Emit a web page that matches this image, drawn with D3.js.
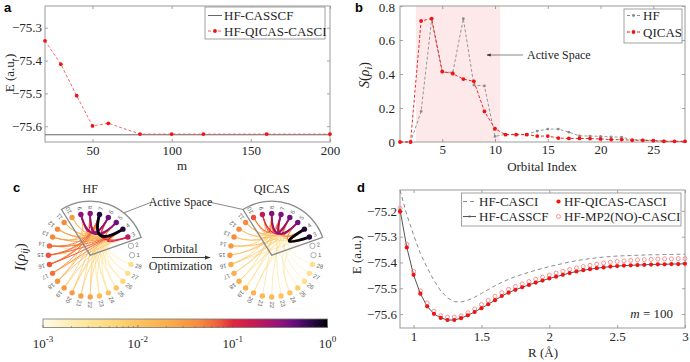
<!DOCTYPE html>
<html lang="en">
<head>
<meta charset="utf-8">
<title>qicas figure</title>
<script src="https://cdn.jsdelivr.net/npm/d3@7"></script>
<style>
  body { margin: 0; background: #fff; }
  svg { font-family: "Liberation Serif", "Times New Roman", serif; }
  .panel { font-family: "Liberation Sans", Arial, sans-serif; font-weight: bold; font-size: 13px; }
  .lab { font-size: 13px; fill: #262626; }
</style>
</head>
<body>
<script>

// ---- panel a ----
var mVals = [20, 30, 40, 50, 60, 80, 100, 120, 160, 200];
var eQicasA = [-75.340, -75.411, -75.507, -75.599, -75.591, -75.624, -75.624, -75.624, -75.624, -75.624];
var eCasscfA = -75.626;

// ---- panel b ----
var orbIdx = [1,2,3,4,5,6,7,8,9,10,11,12,13,14,15,16,17,18,19,20,21,22,23,24,25,26,27,28];
var sHF = [0, 0, 0.18, 0.72, 0.41, 0.41, 0.725, 0.335, 0.33, 0.033, 0.045, 0.045, 0.045, 0.064, 0.076, 0.076,
           0.058, 0.036, 0.035, 0.033, 0.03, 0.028, 0.014, 0.012, 0.01, 0.006, 0.004, 0.004];
var sQICAS = [0, 0, 0.712, 0.726, 0.415, 0.402, 0.37, 0.357, 0.18, 0.078, 0.043, 0.043, 0.043, 0.035, 0.035, 0.023,
              0.021, 0.021, 0.02, 0.018, 0.014, 0.014, 0.01, 0.01, 0.008, 0.004, 0.004, 0.004];
var activeSpan = [2.5, 10.5];

// ---- panel c : mutual information pairs [i, j, I] ----
var miHF = [
  [4,7,0.95],[3,4,0.12],[3,7,0.1],[5,9,0.3],[6,8,0.3],[5,8,0.2],[6,9,0.2],[5,6,0.1],[8,9,0.1],
  [4,5,0.05],[4,6,0.05],[7,8,0.05],[7,9,0.05],[4,8,0.03],[5,7,0.03],[4,10,0.02],[7,10,0.02],
  [11,4,0.02],[11,7,0.02],[12,4,0.03],[12,7,0.025],[13,4,0.035],[13,7,0.03],[14,4,0.06],[14,7,0.05],
  [15,4,0.07],[15,7,0.06],[16,4,0.065],[16,7,0.055],[17,4,0.04],[17,7,0.035],[18,4,0.02],[18,7,0.02],
  [19,4,0.012],[19,7,0.01],[20,4,0.01],[20,7,0.01],[21,4,0.01],[21,7,0.008],[22,4,0.008],[22,7,0.008],
  [23,4,0.005],[23,7,0.005],[24,4,0.005],[24,7,0.004],[25,4,0.004],[25,7,0.004],[26,4,0.003],[26,7,0.003],
  [27,4,0.003],[27,7,0.003],[28,4,0.002],[28,7,0.002],[14,5,0.02],[15,6,0.02],[16,8,0.02],[13,9,0.015],
  [17,3,0.01],[12,5,0.01],[18,9,0.01],[20,5,0.005],[22,6,0.005],[24,8,0.004],[26,9,0.003],[14,15,0.01],[15,16,0.01]
];
var miQICAS = [
  [3,4,0.95],[5,8,0.3],[6,7,0.3],[5,7,0.15],[6,8,0.15],[5,6,0.08],[7,8,0.08],[3,5,0.05],[4,6,0.05],
  [9,5,0.1],[9,8,0.08],[10,6,0.05],[10,7,0.04],[9,10,0.03],[3,7,0.03],[4,8,0.03],
  [11,5,0.02],[11,8,0.015],[12,5,0.015],[12,8,0.012],[13,6,0.015],[13,7,0.012],[14,5,0.015],[14,8,0.012],
  [15,6,0.015],[15,7,0.012],[16,5,0.012],[16,8,0.01],[17,6,0.01],[17,7,0.008],[18,5,0.008],[18,8,0.007],
  [19,6,0.006],[19,7,0.005],[20,5,0.006],[21,8,0.005],[22,6,0.005],[23,7,0.004],[24,5,0.004],[25,8,0.003],
  [26,6,0.003],[27,7,0.002],[28,5,0.002],[11,3,0.006],[14,4,0.006],[16,3,0.005],[20,4,0.004],[24,3,0.003]
];
var cbarTicks = [1e-3, 1e-2, 1e-1, 1];
var cbarExp = ["-3", "-2", "-1", "0"];
var cmapStops = [0, 0.12, 0.25, 0.333, 0.45, 0.55, 0.62, 0.667, 0.75, 0.82, 0.88, 0.94, 1];
var cmapColors = ["#fffbe8", "#feeaa8", "#fed87a", "#fdc35e", "#fbac4a", "#f68a3e", "#ee5b3a", "#e2263d",
                  "#c21a55", "#9b1378", "#6a0d80", "#2c0a4c", "#000004"];

// ---- panel d ----
var rVals = [0.90,0.95,1.00,1.05,1.10,1.15,1.20,1.25,1.30,1.35,1.40,1.45,1.50,1.55,1.60,1.65,1.70,1.75,1.80,1.85,1.90,
             1.95,2.00,2.05,2.10,2.15,2.20,2.25,2.30,2.35,2.40,2.45,2.50,2.55,2.60,2.65,2.70,2.75,2.80,2.85,2.90,2.95,3.00];
var eCasci = [-75.120,-75.215,-75.293,-75.365,-75.420,-75.470,-75.510,-75.537,-75.552,-75.553,-75.546,-75.535,-75.520,
              -75.505,-75.490,-75.477,-75.465,-75.455,-75.446,-75.438,-75.430,-75.423,-75.416,-75.410,-75.404,-75.398,
              -75.393,-75.389,-75.385,-75.382,-75.379,-75.377,-75.375,-75.374,-75.373,-75.372,-75.371,-75.370,-75.370,
              -75.369,-75.369,-75.368,-75.368];
var eCasscf = [-75.195,-75.341,-75.448,-75.521,-75.570,-75.599,-75.615,-75.623,-75.623,-75.616,-75.605,-75.592,-75.577,
               -75.562,-75.546,-75.530,-75.517,-75.506,-75.496,-75.487,-75.478,-75.470,-75.462,-75.455,-75.448,-75.441,
               -75.435,-75.430,-75.426,-75.422,-75.419,-75.416,-75.414,-75.412,-75.411,-75.410,-75.409,-75.408,-75.407,
               -75.407,-75.406,-75.406,-75.405];
var eQicas = [-75.203,-75.342,-75.448,-75.521,-75.570,-75.599,-75.615,-75.623,-75.623,-75.616,-75.605,-75.592,-75.577,
              -75.562,-75.546,-75.530,-75.517,-75.506,-75.496,-75.487,-75.478,-75.470,-75.462,-75.455,-75.448,-75.441,
              -75.435,-75.430,-75.426,-75.422,-75.419,-75.416,-75.414,-75.412,-75.411,-75.410,-75.409,-75.408,-75.407,
              -75.407,-75.406,-75.406,-75.405];
var eMP2 = [-75.190,-75.329,-75.435,-75.510,-75.557,-75.589,-75.606,-75.612,-75.612,-75.607,-75.595,-75.580,-75.563,
            -75.547,-75.531,-75.517,-75.504,-75.493,-75.483,-75.474,-75.465,-75.457,-75.449,-75.441,-75.434,-75.427,
            -75.421,-75.416,-75.411,-75.406,-75.402,-75.399,-75.396,-75.394,-75.392,-75.390,-75.389,-75.388,-75.387,
            -75.386,-75.386,-75.385,-75.385];

var W = 690, H = 362;
var RED = "#f21212";
var SERIF = "'Liberation Serif', 'Times New Roman', serif";

var svg = d3.select("body").append("svg").attr("width", W).attr("height", H);

// box with inward ticks on all four sides (matlab style)
function frame(g, x, y, xt, yt, xfmt, yfmt, xpad, ypad) {
  var x0 = x.range()[0], x1 = x.range()[1], y0 = y.range()[0], y1 = y.range()[1];
  g.append("g").attr("transform", "translate(0," + y0 + ")")
    .call(d3.axisBottom(x).tickValues(xt).tickFormat(xfmt).tickSizeInner(-3).tickSizeOuter(0).tickPadding(xpad));
  g.append("g").attr("transform", "translate(0," + y1 + ")")
    .call(d3.axisTop(x).tickValues(xt).tickFormat("").tickSizeInner(-3).tickSizeOuter(0));
  g.append("g").attr("transform", "translate(" + x0 + ",0)")
    .call(d3.axisLeft(y).tickValues(yt).tickFormat(yfmt).tickSizeInner(-3).tickSizeOuter(0).tickPadding(ypad));
  g.append("g").attr("transform", "translate(" + x1 + ",0)")
    .call(d3.axisRight(y).tickValues(yt).tickFormat("").tickSizeInner(-3).tickSizeOuter(0));
  g.selectAll(".domain").remove();
  g.selectAll(".tick line").attr("stroke", "#666").attr("stroke-width", 0.6);
  g.selectAll(".tick text").style("font-family", SERIF).style("font-size", "13px").attr("fill", "#262626");
  g.append("rect").attr("x", x0).attr("y", y1).attr("width", x1 - x0).attr("height", y0 - y1)
    .attr("fill", "none").attr("stroke", "#9a9a9a").attr("stroke-width", 1);
}

function legendBox(g, x, y, w, h) {
  g.append("rect").attr("x", x).attr("y", y).attr("width", w).attr("height", h)
    .attr("fill", "#fff").attr("stroke", "#8a8a8a").attr("stroke-width", 0.8);
}

function label(g, txt, x, y, anchor) {
  return g.append("text").attr("class", "lab").attr("x", x).attr("y", y)
    .attr("text-anchor", anchor || "middle").style("font-family", SERIF).text(txt);
}

// ================= panel a =================
var ga = svg.append("g");
var xA = d3.scaleLinear().domain([20, 200]).range([45, 330]);
var yA = d3.scaleLinear().domain([-75.648, -75.234]).range([142, 6]);
frame(ga, xA, yA, [50, 100, 150, 200], [-75.6, -75.5, -75.4, -75.3], d3.format("d"), d3.format(".1f"), 4, 3);

ga.append("line").attr("x1", xA(20)).attr("x2", xA(200)).attr("y1", yA(eCasscfA)).attr("y2", yA(eCasscfA))
  .attr("stroke", "#666").attr("stroke-width", 1);
var ptsA = mVals.map(function(m, i) { return [m, eQicasA[i]]; });
ga.append("path").datum(ptsA)
  .attr("d", d3.line().x(function(d) { return xA(d[0]); }).y(function(d) { return yA(d[1]); }))
  .attr("fill", "none").attr("stroke", "#f45a5a").attr("stroke-width", 0.9).attr("stroke-dasharray", "3,2");
ga.selectAll(".ma").data(ptsA).enter().append("circle")
  .attr("cx", function(d) { return xA(d[0]); }).attr("cy", function(d) { return yA(d[1]); })
  .attr("r", 1.9).attr("fill", RED);

label(ga, "m", 182, 170);
label(ga, "E (a.u.)", 0, 0).attr("transform", "translate(14,73) rotate(-90)");

legendBox(ga, 205, 7, 120, 32);
ga.append("line").attr("x1", 208).attr("x2", 222).attr("y1", 15.5).attr("y2", 15.5).attr("stroke", "#666");
label(ga, "HF-CASSCF", 224, 20, "start");
ga.append("line").attr("x1", 208).attr("x2", 222).attr("y1", 31).attr("y2", 31)
  .attr("stroke", "#f45a5a").attr("stroke-dasharray", "3,2");
ga.append("circle").attr("cx", 215).attr("cy", 31).attr("r", 1.9).attr("fill", RED);
label(ga, "HF-QICAS-CASCI", 224, 35.5, "start");

svg.append("text").attr("class", "panel").attr("x", 4).attr("y", 12).text("a");

// ================= panel b =================
var gb = svg.append("g");
var xB = d3.scaleLinear().domain([1, 28]).range([400, 685]);
var yB = d3.scaleLinear().domain([0, 0.8]).range([142, 6]);
gb.append("rect").attr("x", xB(activeSpan[0])).attr("y", yB(0.8))
  .attr("width", xB(activeSpan[1]) - xB(activeSpan[0])).attr("height", yB(0) - yB(0.8))
  .attr("fill", "#fde9e9");
frame(gb, xB, yB, [5, 10, 15, 20, 25], [0, 0.2, 0.4, 0.6, 0.8], d3.format("d"),
  function(d) { return d === 0 ? "0" : d3.format(".1f")(d); }, 3, 5);
gb.selectAll(".tick text").filter(function(d) { return d === 0.8; }).attr("dy", "0.42em");

var lineB = function(arr) {
  return d3.line().x(function(d, i) { return xB(orbIdx[i]); }).y(function(d) { return yB(d); })(arr);
};
gb.append("path").attr("d", lineB(sHF)).attr("fill", "none").attr("stroke", "#8c8c8c")
  .attr("stroke-width", 0.9).attr("stroke-dasharray", "3,2");
gb.selectAll(".mh").data(sHF).enter().append("circle")
  .attr("cx", function(d, i) { return xB(orbIdx[i]); }).attr("cy", function(d) { return yB(d); })
  .attr("r", 1.4).attr("fill", "#8c8c8c");
gb.append("path").attr("d", lineB(sQICAS)).attr("fill", "none").attr("stroke", RED)
  .attr("stroke-width", 0.9).attr("stroke-dasharray", "3,2");
gb.selectAll(".mq").data(sQICAS).enter().append("circle")
  .attr("cx", function(d, i) { return xB(orbIdx[i]); }).attr("cy", function(d) { return yB(d); })
  .attr("r", 1.9).attr("fill", RED);

// active space annotation
svg.append("defs").append("marker").attr("id", "arr").attr("viewBox", "0 0 10 10")
  .attr("refX", 9).attr("refY", 5).attr("markerWidth", 6).attr("markerHeight", 6).attr("orient", "auto")
  .append("path").attr("d", "M0,1.5 L10,5 L0,8.5 z").attr("fill", "#333");
gb.append("line").attr("x1", 523).attr("x2", 487).attr("y1", 55).attr("y2", 55)
  .attr("stroke", "#555").attr("stroke-width", 0.7).attr("marker-end", "url(#arr)");
label(gb, "Active Space", 527, 59, "start").style("font-size", "12px");

var sLab = gb.append("text").attr("class", "lab").attr("text-anchor", "middle").style("font-family", SERIF)
  .attr("transform", "translate(369,75) rotate(-90)").style("font-size", "14px");
sLab.append("tspan").attr("font-style", "italic").text("S");
sLab.append("tspan").text("(");
sLab.append("tspan").attr("font-style", "italic").text("ρ");
sLab.append("tspan").attr("font-style", "italic").attr("font-size", "10px").attr("dy", 3).text("i");
sLab.append("tspan").attr("dy", -3).text(")");
label(gb, "Orbital Index", 542, 171);

legendBox(gb, 624, 9, 58, 34);
gb.append("line").attr("x1", 627).attr("x2", 640).attr("y1", 15.5).attr("y2", 15.5)
  .attr("stroke", "#8c8c8c").attr("stroke-dasharray", "3,2");
gb.append("circle").attr("cx", 633.5).attr("cy", 15.5).attr("r", 1.4).attr("fill", "#8c8c8c");
label(gb, "HF", 643, 20, "start");
gb.append("line").attr("x1", 627).attr("x2", 640).attr("y1", 32).attr("y2", 32)
  .attr("stroke", RED).attr("stroke-dasharray", "3,2");
gb.append("circle").attr("cx", 633.5).attr("cy", 32).attr("r", 1.9).attr("fill", RED);
label(gb, "QICAS", 643, 36.5, "start");

svg.append("text").attr("class", "panel").attr("x", 355).attr("y", 12).text("b");

// ================= panel c =================
var gc = svg.append("g");
var tScale = d3.scaleLog().domain([1e-3, 1]).range([0, 1]).clamp(true);
var cmap = d3.scaleLinear().domain(cmapStops).range(cmapColors).interpolate(d3.interpolateRgb);
function colorOf(v) { return cmap(tScale(v)); }

var nOrb = 28, rNode = 41.8, rWedge = 54;
var ang = d3.scaleLinear().domain([1, nOrb + 1]).range([0, 2 * Math.PI]);

function drawChord(cx, cy, ent, pairs, title) {
  var g = gc.append("g");
  function pos(k, r) { var a = ang(k); return [cx + r * Math.cos(a), cy - r * Math.sin(a)]; }
  var sorted = pairs.slice().sort(function(a, b) { return a[2] - b[2]; });
  g.selectAll(".edge").data(sorted).enter().append("path")
    .attr("d", function(d) {
      var p = d3.path(), a = pos(d[0], rNode), b = pos(d[1], rNode);
      p.moveTo(a[0], a[1]);
      p.quadraticCurveTo(cx, cy - 6, b[0], b[1]);
      return p.toString();
    })
    .attr("fill", "none").attr("stroke", function(d) { return colorOf(d[2]); })
    .attr("stroke-width", function(d) { return 0.4 + 2.6 * Math.sqrt(d[2]); })
    .attr("stroke-linecap", "round");
  g.selectAll(".node").data(orbIdx).enter().append("circle")
    .attr("cx", function(k) { return pos(k, rNode)[0]; })
    .attr("cy", function(k) { return pos(k, rNode)[1]; })
    .attr("r", 2.7)
    .attr("fill", function(k) { return ent[k - 1] < 1e-3 ? "#fff" : colorOf(ent[k - 1]); })
    .attr("stroke", function(k) { return ent[k - 1] < 1e-3 ? "#777" : "none"; })
    .attr("stroke-width", 0.6);
  g.selectAll(".nl").data(orbIdx).enter().append("text")
    .attr("transform", function(k) {
      var p = pos(k, rNode + 4.5);
      return "translate(" + p[0] + "," + p[1] + ") rotate(" + (-ang(k) * 180 / Math.PI) + ")";
    })
    .attr("dy", "0.35em").attr("font-size", "6px").attr("fill", "#666")
    .attr("font-family", "'Liberation Sans', Arial, sans-serif")
    .text(function(k) { return k; });
  // active space wedge
  var a0 = ang(2.5), a1 = ang(10.5);
  g.append("path").attr("transform", "translate(" + cx + "," + cy + ")")
    .attr("d", d3.arc()({ innerRadius: 0, outerRadius: rWedge, startAngle: Math.PI / 2 - a1, endAngle: Math.PI / 2 - a0 }))
    .attr("fill", "none").attr("stroke", "#8a8a8a").attr("stroke-width", 1.3);
  label(g, title, cx, 193).style("font-size", "12px");
}
drawChord(90.2, 255.2, sHF, miHF, "HF");
drawChord(271.7, 255.2, sQICAS, miQICAS, "QICAS");

// connectors for "Active Space"
var pL = [90.2 + rWedge * Math.cos(0.9), 255.2 - rWedge * Math.sin(0.9)];
var pR = [271.7 + rWedge * Math.cos(ang(10.5)), 255.2 - rWedge * Math.sin(ang(10.5))];
gc.append("line").attr("x1", pL[0]).attr("y1", pL[1]).attr("x2", 152).attr("y2", 202)
  .attr("stroke", "#8a8a8a").attr("stroke-width", 1);
gc.append("line").attr("x1", 209).attr("y1", 202).attr("x2", pR[0]).attr("y2", pR[1])
  .attr("stroke", "#8a8a8a").attr("stroke-width", 1);
label(gc, "Active Space", 180.5, 206).style("font-size", "12px");

// orbital optimization arrow
gc.append("line").attr("x1", 152).attr("x2", 210).attr("y1", 257.5).attr("y2", 257.5)
  .attr("stroke", "#444").attr("stroke-width", 1).attr("marker-end", "url(#arr)");
label(gc, "Orbital", 180.5, 253).style("font-size", "12px");
label(gc, "Optimization", 180.5, 270).style("font-size", "12px");

var iLab = gc.append("text").attr("class", "lab").attr("text-anchor", "middle").style("font-family", SERIF)
  .attr("transform", "translate(25,257) rotate(-90)").style("font-size", "15px");
iLab.append("tspan").attr("font-style", "italic").text("I");
iLab.append("tspan").text("(");
iLab.append("tspan").attr("font-style", "italic").text("ρ");
iLab.append("tspan").attr("font-style", "italic").attr("font-size", "10px").attr("dy", 3).text("ij");
iLab.append("tspan").attr("dy", -3).text(")");

// colour bar
var xC = d3.scaleLog().domain([1e-3, 1]).range([43, 327.5]);
var grad = svg.select("defs").append("linearGradient").attr("id", "cbar");
grad.selectAll("stop").data(cmapStops).enter().append("stop")
  .attr("offset", function(d) { return d; })
  .attr("stop-color", function(d, i) { return cmapColors[i]; });
gc.append("rect").attr("x", xC.range()[0]).attr("y", 319).attr("width", xC.range()[1] - xC.range()[0]).attr("height", 8.5)
  .attr("fill", "url(#cbar)").attr("stroke", "#777").attr("stroke-width", 0.8);
var minor = [];
[1e-3, 1e-2, 1e-1].forEach(function(dec) { for (var k = 2; k <= 9; k++) minor.push(dec * k); });
gc.selectAll(".mt").data(minor).enter().append("line")
  .attr("x1", function(d) { return xC(d); }).attr("x2", function(d) { return xC(d); })
  .attr("y1", 327.5).attr("y2", 326).attr("stroke", "#555").attr("stroke-width", 0.5);
gc.selectAll(".Mt").data(cbarTicks).enter().append("line")
  .attr("x1", function(d) { return xC(d); }).attr("x2", function(d) { return xC(d); })
  .attr("y1", 327.5).attr("y2", 325).attr("stroke", "#555").attr("stroke-width", 0.6);
var ct = gc.selectAll(".ct").data(cbarTicks).enter().append("text").attr("class", "lab").style("font-family", SERIF)
  .attr("x", function(d) { return xC(d); }).attr("y", 348).attr("text-anchor", "middle");
ct.append("tspan").text("10");
ct.append("tspan").attr("dy", -6).attr("font-size", "9px").text(function(d, i) { return cbarExp[i]; });

svg.append("text").attr("class", "panel").attr("x", 13).attr("y", 192).text("c");

// ================= panel d =================
var gd = svg.append("g");
var xD = d3.scaleLinear().domain([0.9, 3]).range([400, 685]);
var yD = d3.scaleLinear().domain([-75.654, -75.119]).range([328, 190]);
frame(gd, xD, yD, [1, 1.5, 2, 2.5, 3], [-75.6, -75.5, -75.4, -75.3, -75.2],
  function(d) { return d3.format("")(d); }, d3.format(".1f"), 4, 3);

var lineD = function(arr) {
  return d3.line().x(function(d, i) { return xD(rVals[i]); }).y(function(d) { return yD(d); })(arr);
};
gd.append("path").attr("d", lineD(eCasci)).attr("fill", "none").attr("stroke", "#8c8c8c")
  .attr("stroke-width", 1).attr("stroke-dasharray", "4,3");
gd.append("path").attr("d", lineD(eCasscf)).attr("fill", "none").attr("stroke", "#555").attr("stroke-width", 1);
gd.selectAll(".mc").data(eCasscf).enter().append("circle")
  .attr("cx", function(d, i) { return xD(rVals[i]); }).attr("cy", function(d) { return yD(d); })
  .attr("r", 1.1).attr("fill", "#555");
gd.selectAll(".mm").data(eMP2).enter().append("circle")
  .attr("cx", function(d, i) { return xD(rVals[i]); }).attr("cy", function(d) { return yD(d); })
  .attr("r", 2).attr("fill", "none").attr("stroke", "#f47a7a").attr("stroke-width", 0.8);
gd.selectAll(".mq").data(eQicas).enter().append("circle")
  .attr("cx", function(d, i) { return xD(rVals[i]); }).attr("cy", function(d) { return yD(d); })
  .attr("r", 2.1).attr("fill", RED);

label(gd, "R (Å)", 543, 357);
label(gd, "E (a.u.)", 0, 0).attr("transform", "translate(361,255) rotate(-90)");
var mLab = gd.append("text").attr("class", "lab").style("font-family", SERIF)
  .attr("x", 673).attr("y", 318).attr("text-anchor", "end");
mLab.append("tspan").attr("font-style", "italic").text("m");
mLab.append("tspan").text(" = 100");

legendBox(gd, 461.5, 193, 219.5, 33);
gd.append("line").attr("x1", 463).attr("x2", 476).attr("y1", 201.5).attr("y2", 201.5)
  .attr("stroke", "#8c8c8c").attr("stroke-dasharray", "4,3");
label(gd, "HF-CASCI", 479, 206, "start");
gd.append("line").attr("x1", 463).attr("x2", 476).attr("y1", 216.5).attr("y2", 216.5).attr("stroke", "#555");
gd.append("circle").attr("cx", 469.5).attr("cy", 216.5).attr("r", 1.1).attr("fill", "#555");
label(gd, "HF-CASSCF", 479, 221, "start");
gd.append("circle").attr("cx", 558.5).attr("cy", 201.5).attr("r", 2.1).attr("fill", RED);
label(gd, "HF-QICAS-CASCI", 564, 206, "start");
gd.append("circle").attr("cx", 558.5).attr("cy", 216.5).attr("r", 2).attr("fill", "none")
  .attr("stroke", "#f47a7a").attr("stroke-width", 0.8);
label(gd, "HF-MP2(NO)-CASCI", 564, 221, "start");

svg.append("text").attr("class", "panel").attr("x", 357).attr("y", 192).text("d");

</script>
</body>
</html>
